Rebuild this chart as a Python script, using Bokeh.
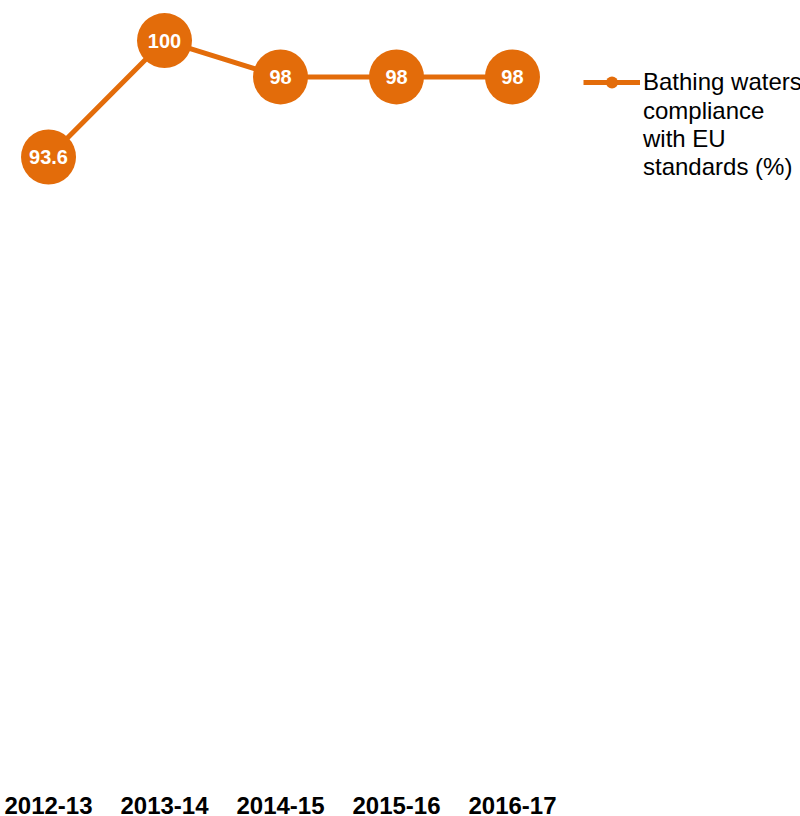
from bokeh.plotting import figure
from bokeh.models import (ColumnDataSource, Range1d, FixedTicker, Legend,
                          LegendItem)
from bokeh.core.properties import value
from bokeh.embed import file_html
from bokeh.resources import INLINE

# Bathing water compliance by financial year
years = ["2012-13", "2013-14", "2014-15", "2015-16", "2016-17"]
compliance = [93.6, 100, 98, 98, 98]
value_labels = ["93.6", "100", "98", "98", "98"]
series_first_line = "Bathing waters"
series_rest = "compliance\nwith EU\nstandards (%)"

ORANGE = "#E36C0A"
FONT = "Liberation Sans"

xs = list(range(len(years)))
src = ColumnDataSource(dict(x=xs, y=compliance, label=value_labels))

p = figure(width=800, height=816, output_backend="svg", toolbar_location=None,
           x_range=Range1d(-0.414, 6.483), y_range=Range1d(58.9, 102.2),
           min_border_left=0, min_border_right=0, min_border_top=0,
           min_border_bottom=0)
p.outline_line_color = None
p.xgrid.visible = False
p.ygrid.visible = False
p.yaxis.visible = False

line_r = p.line("x", "y", source=src, line_color=ORANGE, line_width=5)
dots_r = p.scatter("x", "y", source=src, size=55, fill_color=ORANGE,
                   line_color=None)
p.text("x", "y", text="label", source=src, text_color="white",
       text_font=value(FONT), text_font_style="bold", text_font_size="20px",
       text_align="center", text_baseline="middle")

# blank swatch for the wrapped part of the legend label
blank_r = p.line(x=[], y=[], line_alpha=0)

xa = p.xaxis[0]
xa.ticker = FixedTicker(ticks=xs)
xa.major_label_overrides = {i: y for i, y in zip(xs, years)}
xa.axis_line_color = None
xa.major_tick_line_color = None
xa.minor_tick_line_color = None
xa.major_label_text_font = FONT
xa.major_label_text_font_style = "bold"
xa.major_label_text_font_size = "24px"
xa.major_label_text_color = "black"
xa.major_label_standoff = 2

legend = Legend(items=[LegendItem(label=series_first_line,
                                  renderers=[line_r, dots_r]),
                       LegendItem(label=series_rest, renderers=[blank_r])],
                location=(583, 607), glyph_width=57, glyph_height=30,
                label_standoff=3, padding=0, margin=0, spacing=0,
                border_line_color=None, background_fill_alpha=0,
                label_text_font=FONT, label_text_font_size="24px",
                label_text_color="black", label_text_line_height=1.2)
p.add_layout(legend)

open("out.html", "w").write(file_html(p, INLINE))
